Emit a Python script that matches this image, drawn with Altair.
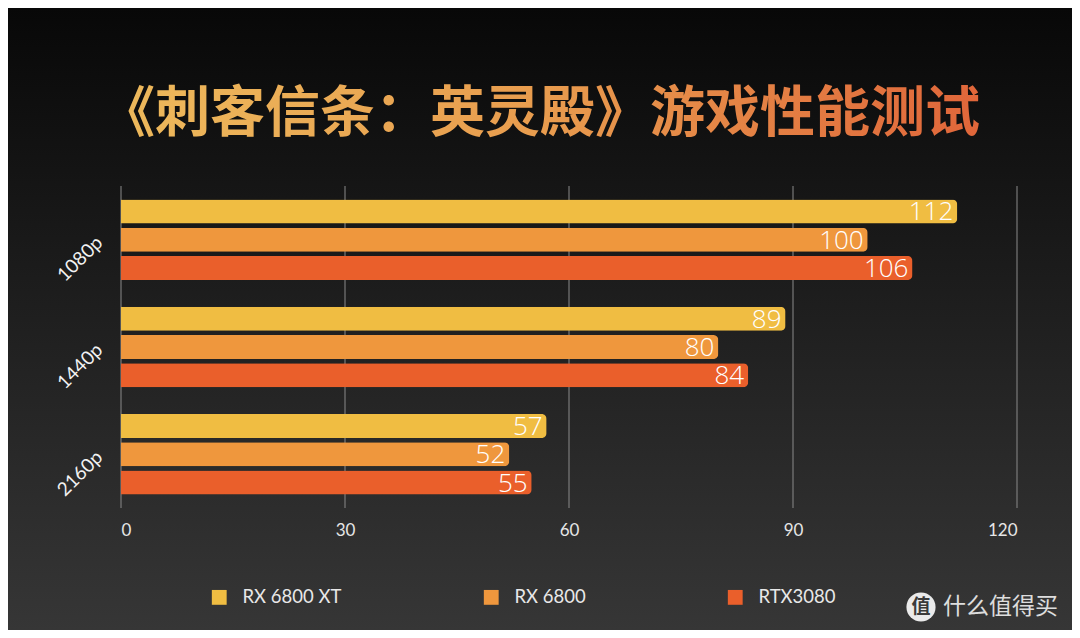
import altair as alt
import pandas as pd

resolutions = ["1080p", "1440p", "2160p"]
series = ["RX 6800 XT", "RX 6800", "RTX3080"]
rx6800xt = [112, 89, 57]
rx6800 = [100, 80, 52]
rtx3080 = [106, 84, 55]
colors = ["#F0BD42", "#EF973D", "#EA5F2B"]
xticks = [0, 30, 60, 90, 120]
title_text = "《刺客信条：英灵殿》游戏性能测试"

rows = []
for i, r in enumerate(resolutions):
    for s, vals in zip(series, [rx6800xt, rx6800, rtx3080]):
        rows.append({"res": r, "gpu": s, "fps": vals[i]})
df = pd.DataFrame(rows)

W, H = 896, 322
PL, PR, PT, PB = 113, 55, 178, 122

x_axis = alt.Axis(values=xticks, labelFontSize=17, labelColor="#e6e6e6",
                  labelFont="Lato", labelPadding=14, ticks=False,
                  domain=False, grid=False, zindex=1)
x_scale = alt.Scale(domain=[0, 120], nice=False)

bg = alt.Chart(alt.Data(values=[{}])).mark_rect(
    color=alt.Gradient(
        gradient="linear",
        stops=[alt.GradientStop(color="#080808", offset=0),
               alt.GradientStop(color="#363636", offset=1)],
        x1=0, x2=0, y1=0, y2=1,
    )
).encode(
    x=alt.value(-PL), x2=alt.value(W + PR),
    y=alt.value(-PT), y2=alt.value(H + PB),
)

grid = alt.Chart(pd.DataFrame({"fps": xticks})).mark_rule(
    color="#8a8a8a", strokeWidth=1
).encode(
    x=alt.X("fps:Q", scale=x_scale, axis=x_axis, title=None)
)

y_enc = alt.Y(
    "res:N", sort=resolutions, title=None,
    scale=alt.Scale(paddingInner=0.25, paddingOuter=0.125),
    axis=alt.Axis(labelAngle=-45, labelAlign="right", labelBaseline="middle",
                  labelFontSize=19, labelColor="#f2f2f2", labelFont="Lato",
                  labelPadding=22, ticks=False, domain=False, grid=False, zindex=1),
)
yoff = alt.YOffset("gpu:N", sort=series, scale=alt.Scale(paddingInner=0.15))

bars = alt.Chart(df).mark_bar(cornerRadiusEnd=5).encode(
    x=alt.X("fps:Q", scale=x_scale, title=None, axis=x_axis),
    y=y_enc,
    yOffset=yoff,
    color=alt.Color("gpu:N", sort=series,
                    scale=alt.Scale(domain=series, range=colors),
                    legend=alt.Legend(title=None, orient="none", direction="horizontal",
                                      legendX=89, legendY=402, symbolType="square",
                                      symbolSize=220, symbolStrokeWidth=0,
                                      labelFontSize=18.5, labelColor="#e8e8e8",
                                      labelFont="Lato", labelOffset=14,
                                      columnPadding=140, zindex=1)),
)

labels = alt.Chart(df).mark_text(
    align="right", baseline="middle", dx=-4, dy=1, fontSize=26,
    font="Open Sans", fontWeight=300, color="#FFFFFF"
).encode(
    x=alt.X("fps:Q"),
    y=alt.Y("res:N", sort=resolutions),
    yOffset=yoff,
    text=alt.Text("fps:Q"),
)

title = alt.Chart(alt.Data(values=[{"t": title_text}])).mark_text(
    font="Noto Sans CJK SC", fontWeight="bold", fontSize=55,
    align="center", baseline="middle",
    color=alt.Gradient(
        gradient="linear",
        stops=[alt.GradientStop(color="#EDBA5C", offset=0),
               alt.GradientStop(color="#E89C4E", offset=0.5),
               alt.GradientStop(color="#E0663A", offset=1)],
        x1=0, x2=1, y1=0, y2=0,
    ),
).encode(x=alt.value(419), y=alt.value(-72), text="t:N")

wm_circle = alt.Chart(alt.Data(values=[{}])).mark_point(
    shape="circle", filled=True, size=850, color="#f4f4f4", opacity=0.95
).encode(x=alt.value(800), y=alt.value(421))
wm_char = alt.Chart(alt.Data(values=[{"t": "值"}])).mark_text(
    font="Noto Sans CJK SC", fontWeight="bold", fontSize=19, color="#3a3a3a",
    align="center", baseline="middle"
).encode(x=alt.value(800), y=alt.value(421), text="t:N")
wm_text = alt.Chart(alt.Data(values=[{"t": "什么值得买"}])).mark_text(
    font="Noto Sans CJK SC", fontSize=23, color="#f0f0f0", opacity=0.9,
    align="left", baseline="middle"
).encode(x=alt.value(822), y=alt.value(421), text="t:N")

chart = alt.layer(bg, grid, bars, labels, title, wm_circle, wm_char, wm_text).properties(
    width=W, height=H,
    autosize=alt.AutoSizeParams(type="none"),
    padding={"left": PL, "right": PR, "top": PT, "bottom": PB},
    background="#1e1e1e",
).configure_view(stroke=None)

chart.save("out.html", embed_options={"renderer": "svg", "actions": False})
